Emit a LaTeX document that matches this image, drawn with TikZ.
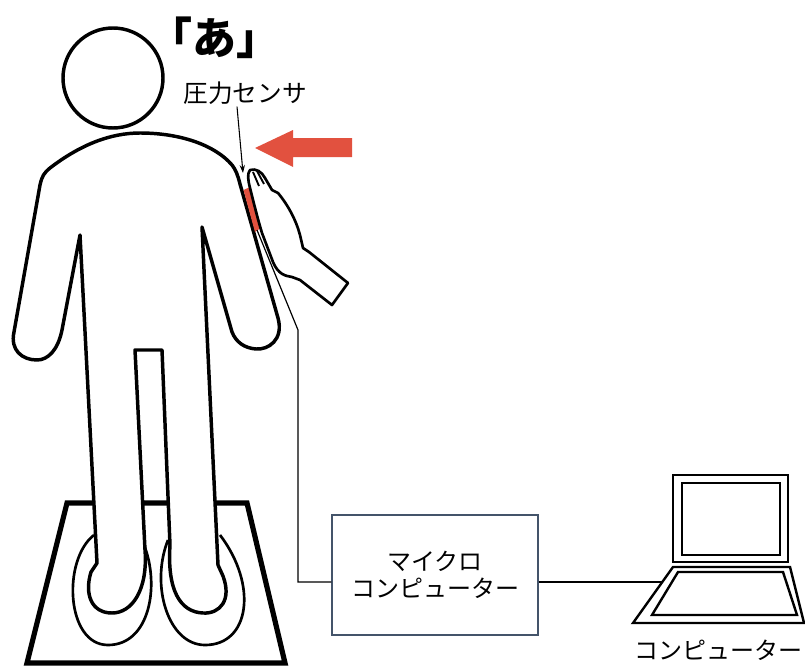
\documentclass[tikz,border=0pt]{standalone}
\usepackage{fontspec}
\newfontfamily\jp{Noto Sans CJK JP}
\usetikzlibrary{positioning,arrows.meta,calc}
\definecolor{ink}{HTML}{000000}
\definecolor{push}{HTML}{E2513F}
\definecolor{frame}{HTML}{44546A}
\tikzset{
  outline/.style={draw=ink, line width=2.6pt, fill=white, line join=round},
  wire/.style={draw=ink, line width=0.9pt},
  pcline/.style={draw=ink, line width=1.8pt, line join=miter},
  mcubox/.style={draw=frame, line width=0.9pt, minimum width=154.5pt, minimum height=90pt,
    align=center, font=\jp\fontsize{18pt}{20pt}\selectfont, text=ink},
  lab/.style={font=\jp\fontsize{18.5pt}{22pt}\selectfont, text=ink, inner sep=0pt},
  ptr/.style={-{Stealth[length=6pt,width=4pt]}, line width=0.8pt, color=ink},
}

\begin{document}
\begin{tikzpicture}[x=0.75pt, y=-0.75pt]
  \useasboundingbox (0,0) rectangle (805,667);

  % 台
  \draw[draw=ink, line width=3.9pt, line join=miter] (67,503) -- (247,503) -- (285,663) -- (27,663) -- cycle;
  % 足あと
  \draw[wire, line width=2pt] (94,535) .. controls (62,560) and (66,645) .. (108,645)
    .. controls (150,645) and (160,585) .. (144,545);
  \draw[wire, line width=2pt] (168,540) .. controls (150,585) and (168,645) .. (205,645)
    .. controls (250,645) and (258,585) .. (220,535);

  % 人（後ろ姿）
  \draw[outline] (113,78) circle (50);
  \draw[outline] (40,185)
    .. controls (42,176) and (44,173) .. (50,168)
    .. controls (80,145) and (110,133) .. (140,133)
    .. controls (180,133) and (215,145) .. (232,165)
    .. controls (236,170) and (238,176) .. (240,184)
    -- (278,318)
    .. controls (284,340) and (268,350) .. (256,349)
    .. controls (244,348) and (236,342) .. (232,332)
    -- (202,227) -- (218,565) -- (223,576)
    .. controls (232,600) and (220,614) .. (203,613)
    .. controls (180,612) and (167,590) .. (170,545)
    -- (162,350) -- (135,350) -- (145,550)
    .. controls (148,590) and (132,613) .. (112,613)
    .. controls (92,613) and (84,595) .. (91,572)
    -- (97,563) -- (80,235) -- (62,330)
    .. controls (58,350) and (48,360) .. (37,360)
    .. controls (22,360) and (10,350) .. (14,332)
    -- cycle;

  % 圧力センサと押す手
  \fill[push] (243.5,190) -- (250,187) -- (262,227) -- (255,232) -- cycle;
  \draw[outline, line width=2pt] (250,170)
    .. controls (256,168) and (262,172) .. (265,178)
    -- (272,190) -- (278,193)
    .. controls (288,205) and (296,220) .. (300,235)
    -- (303,248) -- (309,252) -- (348,283) -- (332,305) -- (300,280) -- (292,277)
    .. controls (285,276) and (278,274) .. (273,262)
    -- (262,233)
    .. controls (258,220) and (253,200) .. (250,188)
    .. controls (248,180) and (247,174) .. (250,170) -- cycle;
  \draw[wire, line width=1.4pt] (253,172) -- (259,186) (257,171) -- (264,184);
  \fill[push] (255,148) -- (293,130) -- (293,138) -- (352,138) -- (352,157)
    -- (293,157) -- (293,167) -- cycle;

  \node[font=\jp\bfseries\fontsize{33pt}{36pt}\selectfont, text=ink] (voice) at (214,38) {「あ」};
  \node[lab] (sensorlabel) at (245,93) {圧力センサ};
  \coordinate (sensortip) at (243,173);
  \draw[ptr] (sensorlabel.south) ++(-8,2) -- (sensortip);

  % 配線
  \node[mcubox] (mcu) at (435,575) {マイクロ\\コンピューター};
  \coordinate (sensor) at (257,230);
  \coordinate (wirebend) at (298,330);
  \coordinate (wirecorner) at (298,582);
  \coordinate (pcport) at (662,582);
  \draw[wire] (sensor) -- (wirebend) -- (wirecorner) -- (wirecorner -| mcu.west);
  \draw[wire] (mcu.east |- pcport) -- (pcport);

  % ノートパソコン
  \draw[pcline] (673,475) rectangle (788,562);
  \draw[pcline] (682,483) rectangle (780,555);
  \draw[pcline] (673,567) -- (790,567) -- (804,623) -- (633,623) -- cycle;
  \draw[pcline] (678,572) -- (783,572) -- (797,615) -- (652,615) -- cycle;
  \node[lab, font=\jp\fontsize{18pt}{22pt}\selectfont] (pc) at (718,650) {コンピューター};
\end{tikzpicture}
\end{document}
